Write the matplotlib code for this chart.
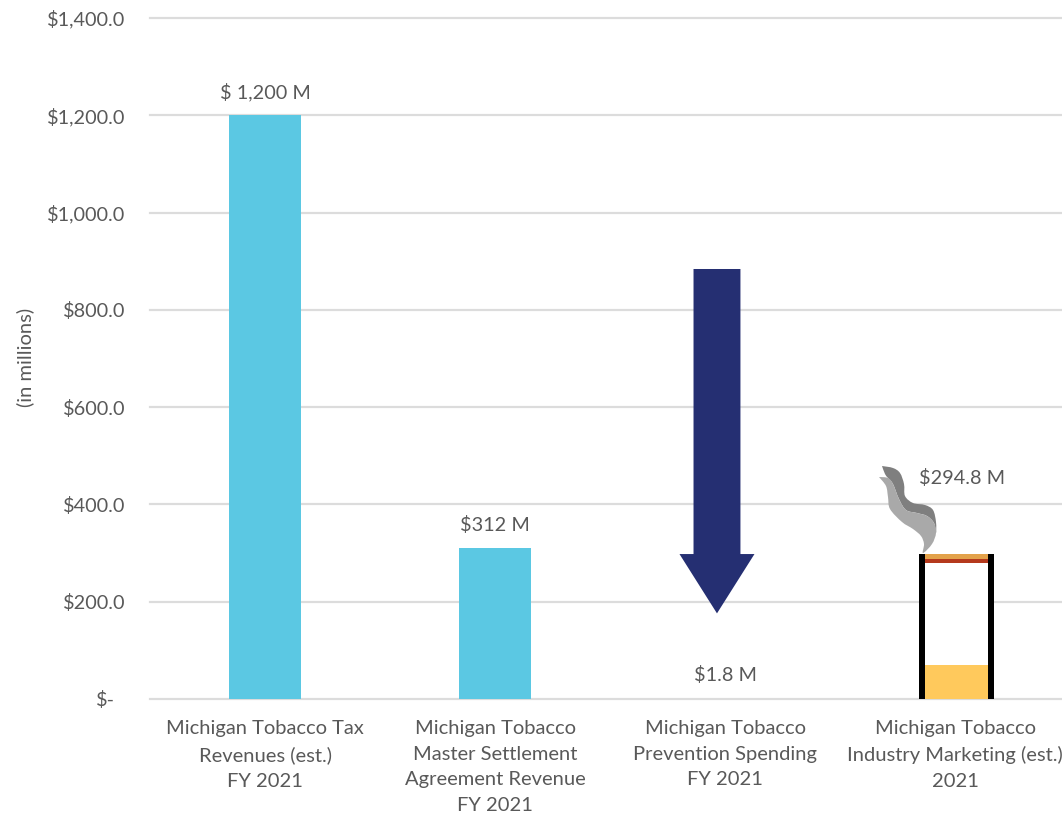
import matplotlib
matplotlib.use('Agg')
from matplotlib import pyplot as plt
from matplotlib.path import Path
from matplotlib.patches import PathPatch, Polygon
from matplotlib.transforms import Affine2D

plt.rcParams['font.family'] = ['Lato', 'DejaVu Sans']

categories = ['Michigan Tobacco Tax\nRevenues (est.)\nFY 2021',
              'Michigan Tobacco\nMaster Settlement\nAgreement Revenue\nFY 2021',
              'Michigan Tobacco\nPrevention Spending\nFY 2021',
              'Michigan Tobacco\nIndustry Marketing (est.)\n2021']
bar_values = [1200, 310, 1.8]
bar_labels = ['$ 1,200 M', '$312 M', '$1.8 M']
marketing_value = 298
marketing_label = '$294.8 M'
filter_top = 70
band_orange = [287, 298]
band_red = [280, 287]
arrow_top = 884
arrow_neck = 298
arrow_tip = 176
y_ticks = [0, 200, 400, 600, 800, 1000, 1200, 1400]
y_tick_labels = ['$-', '$200.0', '$400.0', '$600.0', '$800.0', '$1,000.0', '$1,200.0', '$1,400.0']

# smoke outlines in image pixels
smoke_light = [(879, 477), (888, 478), (893, 484), (899, 499), (906, 510), (917, 513), (927, 516),
               (934, 523), (936, 533), (932, 544), (923, 553), (924, 544), (921, 536), (913, 529),
               (902, 522), (890, 509), (888, 497), (886, 486), (879, 477)]
smoke_dark = [(882, 466), (893, 468), (900, 473), (904, 484), (905, 496), (913, 503), (925, 505),
              (933, 510), (936, 522), (936, 533), (934, 523), (927, 516), (917, 513), (906, 510),
              (899, 499), (893, 484), (888, 478), (885, 474), (882, 466)]

GREY = '#595959'
BLUE = '#5BC8E3'
NAVY = '#252F72'


def curve_path(points):
    """ smooth path through the outline, catmull-rom turned into bezier segments"""
    verts = [points[0]]
    codes = [Path.MOVETO]
    n = len(points)
    for i in range(n - 1):
        p0 = points[max(i - 1, 0)]
        p1 = points[i]
        p2 = points[i + 1]
        p3 = points[min(i + 2, n - 1)]
        verts.append((p1[0] + (p2[0] - p0[0]) / 6, p1[1] + (p2[1] - p0[1]) / 6))
        verts.append((p2[0] - (p3[0] - p1[0]) / 6, p2[1] - (p3[1] - p1[1]) / 6))
        verts.append(p2)
        codes += [Path.CURVE4] * 3
    return Path(verts, codes)


fig = plt.figure(figsize=(10.62, 8.17), dpi=100)
ax = fig.add_axes([150 / 1062, 1 - 699 / 817, 912 / 1062, 681 / 817])
ax.set_xlim(-0.5, 3.465)
ax.set_ylim(0, 1400)

for s in ax.spines.values():
    s.set_visible(False)
ax.set_axisbelow(True)
ax.grid(axis='y', color='#dcdcdc', linewidth=1.6, clip_on=False)
ax.tick_params(axis='both', length=0, labelcolor=GREY)

ax.set_yticks(y_ticks)
ax.set_yticklabels(y_tick_labels, fontsize=14.3)
ax.tick_params(axis='y', pad=18)
ax.get_yticklabels()[0].set_x(-10 / 912)
ax.set_xticks(range(4))
ax.set_xticklabels(categories, fontsize=14.5, linespacing=1.62)
ax.tick_params(axis='x', pad=15)
ax.set_ylabel('(in millions)', fontsize=14.5, color=GREY)
ax.yaxis.set_label_coords((34 - 150) / 912, (699 - 357) / 681)

# bars, the 1.8 one is too small to show up
ax.bar(range(2), bar_values[:2], width=0.313, color=BLUE)
for i, v in enumerate(bar_values):
    ax.annotate(bar_labels[i], (i, v), xytext=(0, 17), textcoords='offset points',
                ha='center', va='center', fontsize=14.3, color=GREY)

# arrow over the prevention spending column
ax_arrow = 1.965
shaft = 0.102
head = 0.163
ax.add_patch(Polygon([(ax_arrow - shaft, arrow_top), (ax_arrow + shaft, arrow_top),
                      (ax_arrow + shaft, arrow_neck), (ax_arrow + head, arrow_neck),
                      (ax_arrow, arrow_tip), (ax_arrow - head, arrow_neck),
                      (ax_arrow - shaft, arrow_neck)], closed=True, color=NAVY, linewidth=0))

# cigarette for the marketing column
cx = 3.007
cw = 0.326
ax.bar(cx, marketing_value, width=cw, color='white', zorder=2)
ax.bar(cx, filter_top, width=cw, color='#FFC95C', zorder=3)
ax.bar(cx, band_orange[1] - band_orange[0], bottom=band_orange[0], width=cw, color='#E3A24A', zorder=3)
ax.bar(cx, band_red[1] - band_red[0], bottom=band_red[0], width=cw, color='#B5391C', zorder=3)
for side in (-1, 1):
    ax.bar(cx + side * (cw / 2 - 0.0135), marketing_value, width=0.027, color='black', zorder=4)
ax.annotate(marketing_label, (cx, marketing_value), xytext=(4, 55), textcoords='offset points',
            ha='center', va='center', fontsize=14.3, color=GREY)

# smoke
to_px = Affine2D().scale(1, -1).translate(0, 817)
for pts, col in ((smoke_dark, '#7f7f7f'), (smoke_light, '#a9a9a9')):
    fig.add_artist(PathPatch(curve_path(pts), facecolor=col, edgecolor='none', transform=to_px))

fig.savefig('out.png', dpi=100)
